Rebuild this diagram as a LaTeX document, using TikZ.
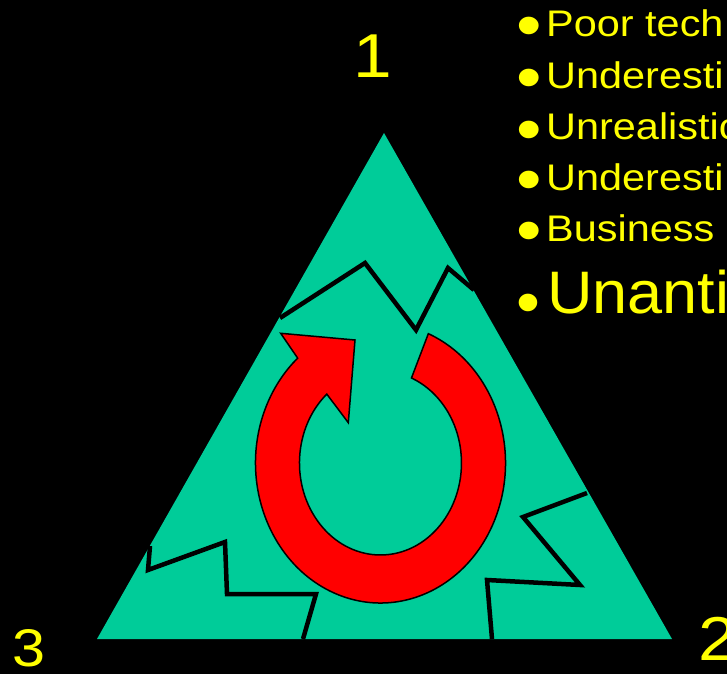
\documentclass[tikz,border=0pt]{standalone}
\usepackage{fontspec}
\setmainfont{Liberation Sans}
\newfontfamily\widefont[FakeStretch=1.12]{Liberation Sans}
\newfontfamily\halfwidefont[FakeStretch=1.05]{Liberation Sans}
\usepackage{tikz}
\definecolor{tripiece}{RGB}{0,204,153}
\definecolor{textyellow}{RGB}{255,255,0}
\newcommand{\bigdot}{{\fontsize{65}{70}\selectfont\raisebox{-11.3pt}{•}}}
\tikzstyle{piece}=[fill=tripiece]
\tikzstyle{crack}=[draw=black,line width=4.5pt,miter limit=10]
\tikzstyle{ring}=[fill=red,draw=black,line width=1.5pt,line join=miter]
\tikzstyle{item}=[text=textyellow,anchor=base west,inner sep=0pt,font=\widefont\fontsize{37}{44}\selectfont]
\tikzstyle{bigitem}=[item,font=\halfwidefont\fontsize{60}{70}\selectfont]
\tikzstyle{corner}=[text=textyellow,inner sep=0pt,font=\widefont\fontsize{62}{70}\selectfont]

\begin{document}
\begin{tikzpicture}[x=1pt,y=1pt]
  \fill[black] (0,0) rectangle (727,674);
  \useasboundingbox (0,0) rectangle (727,674);
  \coordinate (apex) at (384,541);
  \coordinate (right) at (672,35);
  \coordinate (left) at (97,35);
  \fill[piece] (apex) -- (right) -- (left) -- cycle;
  \draw[crack] (280,356) -- (365,411) -- (416,344) -- (448,406) -- (474,384);
  \draw[crack] (150,128) -- (148,104) -- (225,132) -- (227,80) -- (316,80) -- (303,35);
  \draw[crack] (587,181) -- (523,157) -- (580,89) -- (487,94) -- (492,35);
  \coordinate (hub) at (380.5,211);
  \draw[ring] (hub) ++(67.5:125 and 140)
    arc[start angle=67.5,end angle=-228.5,x radius=125,y radius=140]
    -- (280.7,340.7) -- (355,334) -- (348.3,251.3) -- (326.8,279.9)
    arc[start angle=-228.5,end angle=67.5,x radius=81,y radius=92] -- cycle;
  \node[corner,anchor=base] (c1) at (373,596) {1};
  \node[corner,anchor=base west] (c2) at (698,14) {2};
  \node[corner,anchor=base west,font=\widefont\fontsize{53}{60}\selectfont] (c3) at (12,8) {3};
  \node[item] (t1) at (516,637.3) {\bigdot\hspace{4.5pt}Poor tech};
  \node[item] (t2) at (516,585.7) {\bigdot\hspace{4.5pt}Underesti};
  \node[item] (t3) at (516,534) {\bigdot\hspace{4.5pt}Unrealistic};
  \node[item] (t4) at (516,483.3) {\bigdot\hspace{4.5pt}Underesti};
  \node[item] (t5) at (516,432.3) {\bigdot\hspace{4.5pt}Business};
  \node[bigitem] (t6) at (516,360.7) {\bigdot\hspace{7pt}Unanti};
\end{tikzpicture}
\end{document}
